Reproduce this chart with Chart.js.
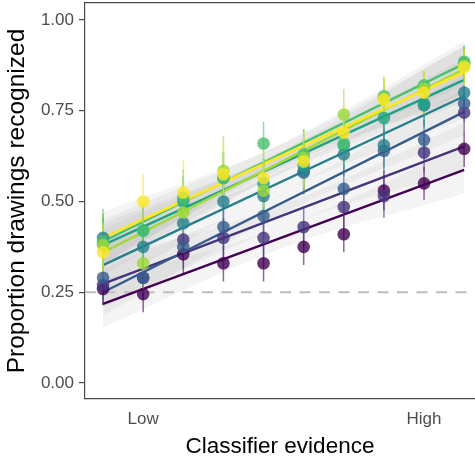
<!DOCTYPE html>
<html>
<head>
<meta charset="utf-8">
<script src="https://cdn.jsdelivr.net/npm/chart.js@4/dist/chart.umd.min.js"></script>
<style>
html,body{margin:0;padding:0;background:#fff;}
#wrap{width:475px;height:460px;}
</style>
</head>
<body>
<div id="wrap"><canvas id="c" width="475" height="460"></canvas></div>
<script>
// ---- data ----
const evidenceSteps = [1, 2, 3, 4, 5, 6, 7, 8, 9, 10];
const xTickPositions = [2, 9];
const xTickLabels = ['Low', 'High'];
const yTickValues = [0, 0.25, 0.5, 0.75, 1];
const chanceLevel = 0.25;

const seriesColors = ['#440154', '#46337E', '#365C8D', '#277F8E', '#1FA187', '#4AC16D', '#9FDA3A', '#FDE725'];

const recS1 = [0.259, 0.245, 0.355, 0.33, 0.33, 0.375, 0.41, 0.53, 0.55, 0.645];
const recS2 = [0.27, 0.29, 0.395, 0.40, 0.40, 0.43, 0.485, 0.515, 0.635, 0.745];
const recS3 = [0.29, 0.29, 0.375, 0.43, 0.46, 0.58, 0.535, 0.64, 0.67, 0.77];
const recS4 = [0.40, 0.375, 0.44, 0.50, 0.515, 0.585, 0.63, 0.655, 0.765, 0.80];
const recS5 = [0.385, 0.42, 0.50, 0.565, 0.55, 0.60, 0.655, 0.73, 0.77, 0.88];
const recS6 = [0.39, 0.42, 0.51, 0.565, 0.66, 0.63, 0.66, 0.79, 0.82, 0.885];
const recS7 = [0.38, 0.33, 0.47, 0.585, 0.53, 0.62, 0.74, 0.785, 0.81, 0.875];
const recS8 = [0.36, 0.50, 0.525, 0.575, 0.565, 0.61, 0.69, 0.78, 0.80, 0.87];

// half-widths of the vertical error bars
const errS1 = [0.045, 0.05, 0.055, 0.05, 0.05, 0.05, 0.05, 0.055, 0.045, 0.05];
const errS2 = [0.055, 0.06, 0.06, 0.055, 0.06, 0.055, 0.06, 0.06, 0.055, 0.05];
const errS3 = [0.06, 0.06, 0.06, 0.06, 0.06, 0.06, 0.065, 0.06, 0.055, 0.05];
const errS4 = [0.065, 0.065, 0.07, 0.065, 0.065, 0.065, 0.06, 0.06, 0.06, 0.05];
const errS5 = [0.07, 0.07, 0.07, 0.07, 0.07, 0.07, 0.065, 0.06, 0.06, 0.05];
const errS6 = [0.09, 0.075, 0.08, 0.07, 0.06, 0.07, 0.07, 0.05, 0.04, 0.04];
const errS7 = [0.09, 0.08, 0.085, 0.095, 0.08, 0.08, 0.07, 0.06, 0.05, 0.045];
const errS8 = [0.08, 0.075, 0.09, 0.08, 0.08, 0.08, 0.075, 0.06, 0.06, 0.05];

// fitted lines: value at the lowest and highest evidence step
const fitAtLow  = [0.218, 0.273, 0.25, 0.325, 0.38, 0.39, 0.36, 0.40];
const fitAtHigh = [0.587, 0.652, 0.747, 0.79, 0.835, 0.88, 0.865, 0.857];
// confidence band half-widths at the ends and the middle of each fit
const bandEdge = [0.065, 0.065, 0.065, 0.06, 0.06, 0.06, 0.065, 0.07];
const bandMid  = [0.03, 0.03, 0.03, 0.028, 0.028, 0.028, 0.03, 0.032];

const recAll = [recS1, recS2, recS3, recS4, recS5, recS6, recS7, recS8];
const errAll = [errS1, errS2, errS3, errS4, errS5, errS6, errS7, errS8];

// ---- build datasets ----
function rgba(hex, a) {
  const n = parseInt(hex.slice(1), 16);
  return `rgba(${(n >> 16) & 255},${(n >> 8) & 255},${n & 255},${a})`;
}
const xFirst = evidenceSteps[0];
const xLast = evidenceSteps[evidenceSteps.length - 1];
const xMid = (xFirst + xLast) / 2;

const datasets = [];
// confidence bands
seriesColors.forEach((c, i) => {
  const midFit = (fitAtLow[i] + fitAtHigh[i]) / 2;
  datasets.push({
    type: 'line', order: 100 + i,
    data: [{x: xFirst, y: fitAtLow[i] + bandEdge[i]}, {x: xMid, y: midFit + bandMid[i]}, {x: xLast, y: fitAtHigh[i] + bandEdge[i]}],
    borderWidth: 0, pointRadius: 0, tension: 0.4, fill: '+1',
    backgroundColor: 'rgba(110,110,110,0.08)'
  });
  datasets.push({
    type: 'line', order: 100 + i,
    data: [{x: xFirst, y: fitAtLow[i] - bandEdge[i]}, {x: xMid, y: midFit - bandMid[i]}, {x: xLast, y: fitAtHigh[i] - bandEdge[i]}],
    borderWidth: 0, pointRadius: 0, tension: 0.4, fill: false
  });
});
// chance line
datasets.push({
  type: 'line', order: 90,
  data: [{x: 0.55, y: chanceLevel}, {x: 10.27, y: chanceLevel}],
  borderColor: '#bdbdbd', borderWidth: 2, borderDash: [11, 8.5], pointRadius: 0, fill: false
});
// fitted lines
seriesColors.forEach((c, i) => {
  datasets.push({
    type: 'line', order: 60 + (7 - i),
    data: [{x: xFirst, y: fitAtLow[i]}, {x: xLast, y: fitAtHigh[i]}],
    borderColor: c, borderWidth: i === 7 ? 2.8 : 2.4, pointRadius: 0, fill: false
  });
});
// error bars
seriesColors.forEach((c, i) => {
  const pts = [];
  evidenceSteps.forEach((x, k) => {
    pts.push({x: x, y: recAll[i][k] - errAll[i][k]});
    pts.push({x: x, y: recAll[i][k] + errAll[i][k]});
    pts.push({x: x, y: null});
  });
  datasets.push({
    type: 'line', order: 40 + (7 - i), data: pts, spanGaps: false,
    borderColor: rgba(c, 0.6), borderWidth: 1.5, pointRadius: 0, fill: false
  });
});
// points
seriesColors.forEach((c, i) => {
  datasets.push({
    type: 'line', order: 10 + (7 - i), showLine: false,
    data: evidenceSteps.map((x, k) => ({x: x, y: recAll[i][k]})),
    pointRadius: 6.3, pointBorderWidth: 0,
    pointBackgroundColor: rgba(c, 0.8), borderColor: rgba(c, 0.8)
  });
});

const axisColor = '#4a4a4a';
const tickFont = {family: "'Liberation Sans', Arial, sans-serif", size: 17};
const fam = "'Liberation Sans', Arial, sans-serif";

function noPad(s) { s.paddingTop = 0; s.paddingBottom = 0; s.paddingLeft = 0; s.paddingRight = 0; }

new Chart(document.getElementById('c'), {
  type: 'line',
  data: {datasets: datasets},
  options: {
    responsive: false,
    animation: false,
    events: [],
    layout: {padding: 0, autoPadding: false},
    plugins: {legend: {display: false}, tooltip: {enabled: false}},
    scales: {
      x: {
        type: 'linear', position: 'bottom', min: 0.55, max: 10.27,
        afterBuildTicks: s => { s.ticks = xTickPositions.map(v => ({value: v})); },
        afterFit: s => { s.height = 61; noPad(s); },
        ticks: {
          autoSkip: false, maxRotation: 0, padding: 10, color: '#4d4d4d', font: tickFont,
          callback: v => { const k = xTickPositions.indexOf(v); return k >= 0 ? xTickLabels[k] : ''; }
        },
        grid: {display: false, drawTicks: false},
        border: {display: true, color: axisColor, width: 1.2},
        title: {display: true, text: 'Classifier evidence', color: '#000', font: {family: fam, size: 22.5}, padding: {top: 0, bottom: 0}}
      },
      xTop: {
        type: 'linear', position: 'top', min: 0.55, max: 10.27,
        afterFit: s => { s.height = 3; noPad(s); },
        ticks: {display: false},
        grid: {display: false, drawTicks: false},
        border: {display: true, color: axisColor, width: 1.2}
      },
      y: {
        type: 'linear', position: 'left', min: -0.044, max: 1.047,
        afterBuildTicks: s => { s.ticks = yTickValues.map(v => ({value: v})); },
        afterFit: s => { s.width = 85; noPad(s); },
        ticks: {
          padding: 5, color: '#4d4d4d', font: tickFont,
          callback: v => Number(v).toFixed(2)
        },
        grid: {drawOnChartArea: false, drawTicks: true, tickLength: 6, color: axisColor, lineWidth: 1.2},
        border: {display: true, color: axisColor, width: 1.2},
        title: {display: true, text: 'Proportion drawings recognized', color: '#000', font: {family: fam, size: 24.5}, padding: {top: 3, bottom: 0}}
      }
    }
  }
});
</script>
</body>
</html>
